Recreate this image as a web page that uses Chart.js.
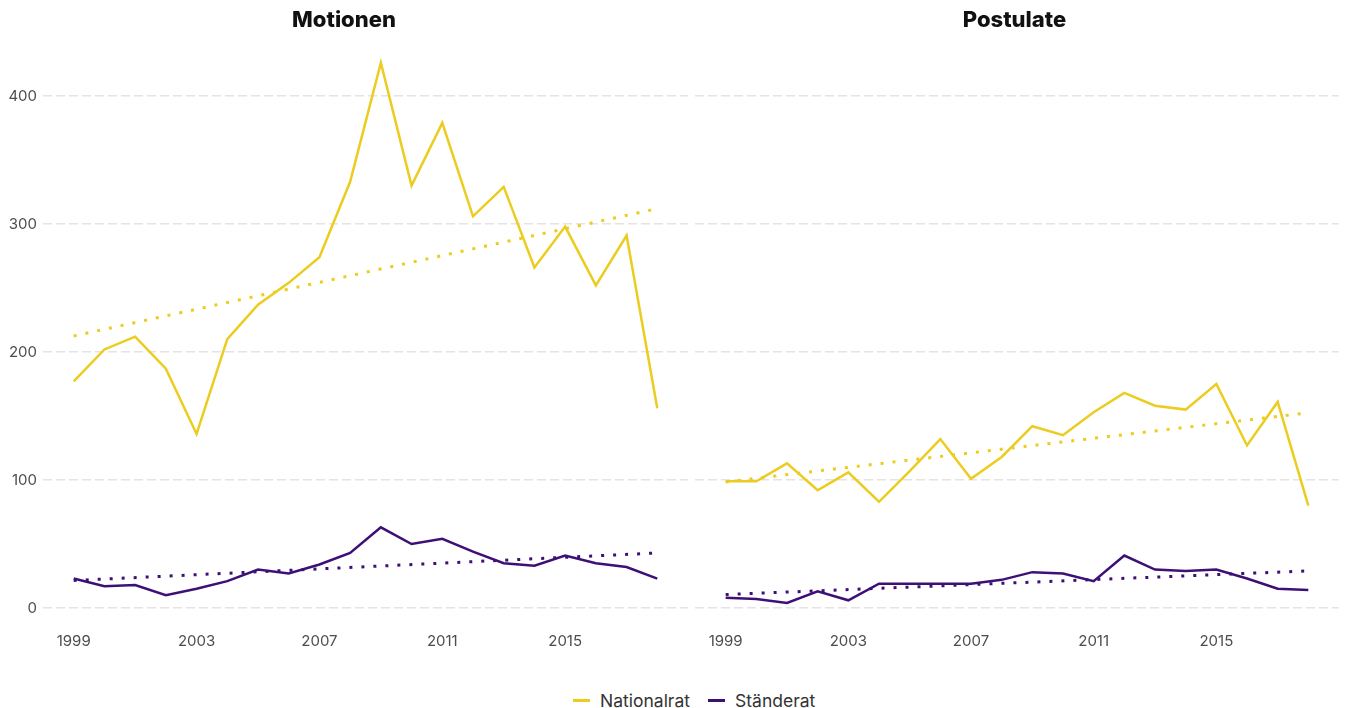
<!DOCTYPE html>
<html>
<head>
<meta charset="utf-8">
<script src="https://cdn.jsdelivr.net/npm/chart.js@4.4.1/dist/chart.umd.min.js"></script>
<style>
  body { margin: 0; background: #fff; font-family: Inter, sans-serif; }
  #wrap { position: relative; width: 1345px; height: 708px; }
  .box { position: absolute; top: 0; height: 670px; }
  #legend { position: absolute; left: 573px; top: 690px; display: flex; align-items: center; font-size: 17.5px; color: #333; }
  #legend .sw { display: inline-block; width: 17px; height: 3px; margin-right: 10px; }
  #legend .item { display: flex; align-items: center; margin-right: 18px; }
</style>
</head>
<body>
<div id="wrap">
  <div class="box" style="left:0;width:690px"><canvas id="motionen"></canvas></div>
  <div class="box" style="left:690px;width:655px"><canvas id="postulate"></canvas></div>
  <div id="legend"></div>
</div>
<script>
const years = [1999, 2000, 2001, 2002, 2003, 2004, 2005, 2006, 2007, 2008, 2009, 2010, 2011, 2012, 2013, 2014, 2015, 2016, 2017, 2018];
const motionenNR = [177, 202, 212, 187, 136, 210, 237, 254, 274, 333, 426, 330, 379, 306, 329, 266, 298, 252, 291, 156];
const motionenSR = [23, 17, 18, 10, 15, 21, 30, 27, 34, 43, 63, 50, 54, 44, 35, 33, 41, 35, 32, 23];
const postulateNR = [99, 99, 113, 92, 106, 83, 107, 132, 101, 118, 142, 135, 153, 168, 158, 155, 175, 127, 161, 80];
const postulateSR = [8, 7, 4, 13, 6, 19, 19, 19, 19, 22, 28, 27, 21, 41, 30, 29, 30, 23, 15, 14];

const trendYears = [1999, 2018];
const motionenNRTrend = [212.5, 312];
const motionenSRTrend = [21.5, 43];
const postulateNRTrend = [98.5, 152.5];
const postulateSRTrend = [10.5, 29];

const xTicks = [1999, 2003, 2007, 2011, 2015];
const yTicks = [0, 100, 200, 300, 400];
const seriesNames = ['Nationalrat', 'Ständerat'];

const YELLOW = 'rgb(236, 204, 30)';
const PURPLE = 'rgb(62, 16, 118)';
const TICK = '#4d4d4d';

function points(xs, ys) {
    return xs.map((x, i) => ({ x: x, y: ys[i] }))
}

function makeDatasets(nr, sr, nrTrend, srTrend) {
    return [
        { label: seriesNames[0], data: points(years, nr), borderColor: YELLOW, borderWidth: 2.5 },
        { label: seriesNames[1], data: points(years, sr), borderColor: PURPLE, borderWidth: 2.5 },
        { label: 'trend NR', data: points(trendYears, nrTrend), borderColor: YELLOW, borderWidth: 3, borderDash: [3, 9] },
        { label: 'trend SR', data: points(trendYears, srTrend), borderColor: PURPLE, borderWidth: 3, borderDash: [3, 9] }
    ]
}

function makeChart(canvas, title, datasets, showLabels, yWidth, padding) {
    return new Chart(canvas.getContext('2d'), {
        type: 'line',
        data: { datasets: datasets },
        options: {
            responsive: true,
            maintainAspectRatio: false,
            animation: false,
            layout: { padding: padding },
            elements: { point: { radius: 0 }, line: { tension: 0, fill: false } },
            plugins: {
                legend: { display: false },
                tooltip: { enabled: false },
                title: {
                    display: true,
                    text: title,
                    color: '#111',
                    font: { family: 'Inter', size: 22, weight: '800' },
                    padding: { top: 7, bottom: 5 }
                }
            },
            scales: {
                x: {
                    type: 'linear',
                    min: 1998,
                    max: 2019,
                    grid: { display: false, drawTicks: false },
                    border: { display: false },
                    afterBuildTicks: s => { s.ticks = xTicks.map(v => ({ value: v })) },
                    afterFit: s => { s.height = 42.8 },
                    ticks: {
                        padding: 5,
                        color: TICK,
                        font: { family: 'Inter', size: 15 },
                        callback: v => String(v)
                    }
                },
                y: {
                    min: -15,
                    max: 445,
                    afterBuildTicks: s => { s.ticks = yTicks.map(v => ({ value: v })) },
                    afterFit: s => { s.width = yWidth },
                    border: { display: false, dash: [9, 4] },
                    grid: { color: '#e4e4e4', lineWidth: 1.5, drawTicks: false },
                    ticks: {
                        display: showLabels,
                        padding: 6,
                        color: TICK,
                        font: { family: 'Inter', size: 15 }
                    }
                }
            }
        }
    })
}

makeChart(document.querySelector('#motionen'), 'Motionen',
    makeDatasets(motionenNR, motionenSR, motionenNRTrend, motionenSRTrend), true, 43, { left: 0, right: 2 });

// right panel shares the y scale, only gridlines are drawn
makeChart(document.querySelector('#postulate'), 'Postulate',
    makeDatasets(postulateNR, postulateSR, postulateNRTrend, postulateSRTrend), false, 5, { left: 0, right: 6 });

// legend
const legend = document.querySelector('#legend');
[YELLOW, PURPLE].forEach((c, i) => {
    const item = document.createElement('span');
    item.className = 'item';
    item.innerHTML = '<span class="sw" style="background:' + c + '"></span>' + seriesNames[i];
    legend.appendChild(item);
})
</script>
</body>
</html>
